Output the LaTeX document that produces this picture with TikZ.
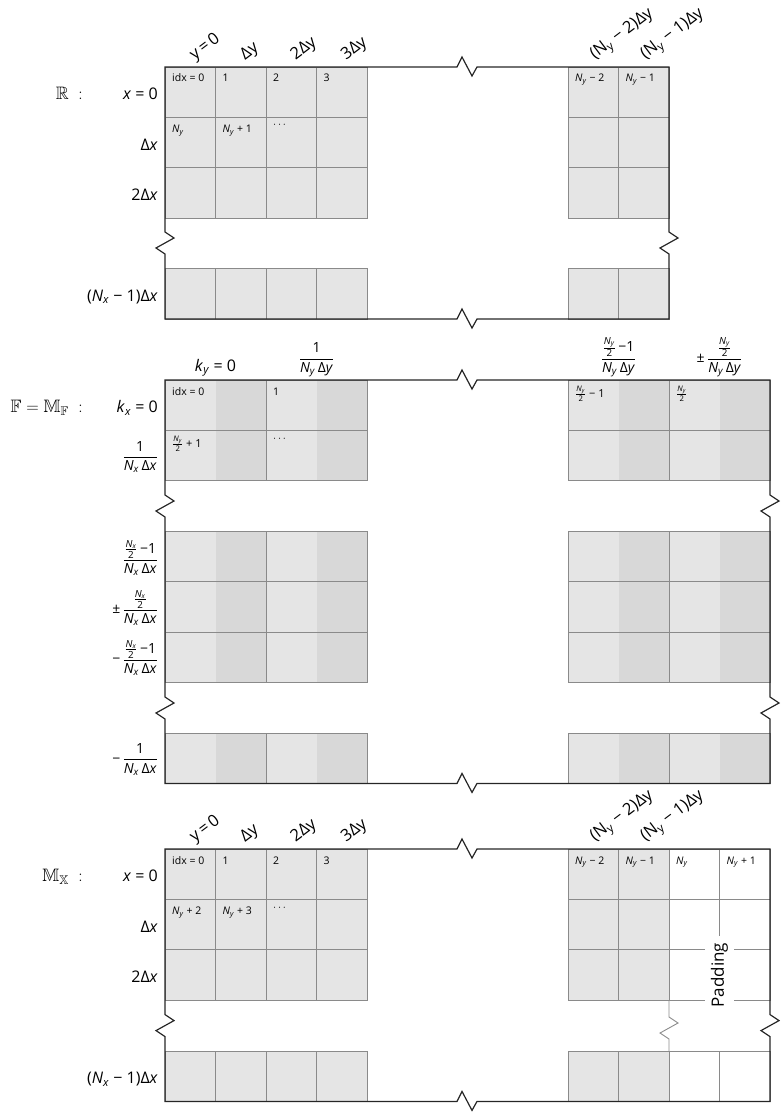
\documentclass[tikz,border=0pt]{standalone}
\usepackage{amsmath,amssymb}
\usepackage{fontspec}
\setmainfont{Open Sans}
\definecolor{cellA}{HTML}{E5E5E5}
\definecolor{cellB}{HTML}{D8D8D8}
\definecolor{gridln}{HTML}{8A8A8A}
\definecolor{outln}{HTML}{262626}
\newcommand{\Ny}{\textit{N}\textsubscript{\textit{y}}}
\newcommand{\Nx}{\textit{N}\textsubscript{\textit{x}}}
\newcommand{\uNy}{N\textsubscript{y}}
\newcommand{\iv}[1]{\textit{#1}}
\newcommand{\fr}[2]{\ensuremath{\dfrac{\text{#1}}{\text{#2}}}}
\newcommand{\sfr}[2]{\ensuremath{\frac{\text{#1}}{\text{#2}}}}
\newcommand{\gcell}[2]{\filldraw[grayc] (#1,#2) rectangle ++(50.5,50.4);}
\newcommand{\pcell}[2]{\filldraw[padc] (#1,#2) rectangle ++(50.5,50.4);}
\newcommand{\fcell}[2]{\fill[cellA] (#1,#2) rectangle ++(50.5,50.4);
  \fill[cellB] (#1+50.5,#2) rectangle ++(50.5,50.4);
  \draw[gridln, line width=0.9pt] (#1,#2) rectangle ++(101,50.4);}
\tikzset{
  grayc/.style={fill=cellA, draw=gridln, line width=0.9pt},
  padc/.style={fill=white, draw=gridln, line width=0.9pt},
  outer/.style={draw=outln, line width=1.2pt, line join=miter},
  rowlab/.style={anchor=base east, inner sep=0pt, font=\fontsize{16}{19}\selectfont},
  fraclab/.style={anchor=east, inner sep=0pt, font=\fontsize{14}{17}\selectfont},
  collab/.style={anchor=south west, inner sep=0pt, rotate=37, font=\fontsize{16.5}{20}\selectfont},
  topfrac/.style={anchor=south, inner sep=0pt, font=\fontsize{14}{17}\selectfont},
  idxlab/.style={anchor=base west, inner sep=0pt, font=\fontsize{10.5}{12}\selectfont},
  idxfrac/.style={anchor=north west, inner sep=0pt, font=\fontsize{11}{13}\selectfont},
  seclab/.style={anchor=base east, inner sep=0pt, font=\fontsize{18}{21}\selectfont},
}
\begin{document}
\begin{tikzpicture}[x=1pt,y=-1pt]
\useasboundingbox (0,0) rectangle (780,1113);
% ================= Section 1: R =================
\foreach \cx in {165,215.5,266,316.5,568,618.5}{
  \foreach \cy in {67,117.4,167.8,268.6}{\gcell{\cx}{\cy}}}
\draw[outer] (165,67) -- (457,67) -- ++(5,-10) -- ++(10,19) -- ++(5,-9) -- (669,67)
  -- (669,232) -- ++(9,6) -- ++(-18,10) -- ++(9,6) -- (669,319)
  -- (477,319) -- ++(-5,9) -- ++(-10,-19) -- ++(-5,10) -- (165,319)
  -- (165,254) -- ++(-9,-6) -- ++(18,-10) -- ++(-9,-6) -- cycle;
\node[seclab] (secR) at (83,99.7) {$\mathbb{R}\;\;{:}$};
\node[rowlab] (rA0) at (158,99.7) {\iv{x} = 0};
\node[rowlab] (rA1) at (158,150.1) {Δ\iv{x}};
\node[rowlab] (rA2) at (158,200.5) {2Δ\iv{x}};
\node[rowlab] (rA3) at (158,301.3) {(\Nx\ − 1)Δ\iv{x}};
\node[collab] (cA0) at (197,64) {y\,=\,0};
\node[collab] (cA1) at (247.5,64) {Δy};
\node[collab] (cA2) at (298,64) {2Δy};
\node[collab] (cA3) at (348.5,64) {3Δy};
\node[collab] (cA4) at (598,64) {(\uNy\ − 2)Δy};
\node[collab] (cA5) at (648.5,64) {(\uNy\ − 1)Δy};
\node[idxlab] (iA0) at (172,82) {idx = 0};
\node[idxlab] (iA1) at (222.5,82) {1};
\node[idxlab] (iA2) at (273,82) {2};
\node[idxlab] (iA3) at (323.5,82) {3};
\node[idxlab] (iA4) at (575,82) {\Ny\ − 2};
\node[idxlab] (iA5) at (625.5,82) {\Ny\ − 1};
\node[idxlab] (iA6) at (172,132.4) {\Ny};
\node[idxlab] (iA7) at (222.5,132.4) {\Ny\ + 1};
\node[idxlab] (iA8) at (273,128) {$\cdots$};
% ================= Section 2: F =================
\foreach \cx in {165,266,568,669}{
  \foreach \cy in {380,430.4,531.5,581.9,632.3,733}{\fcell{\cx}{\cy}}}
\draw[outer] (165,380) -- (457,380) -- ++(5,-10) -- ++(10,19) -- ++(5,-9) -- (770,380)
  -- (770,495) -- ++(9,6) -- ++(-18,10) -- ++(9,6)
  -- (770,697) -- ++(9,6) -- ++(-18,10) -- ++(9,6) -- (770,783.4)
  -- (477,783.4) -- ++(-5,9) -- ++(-10,-19) -- ++(-5,10) -- (165,783.4)
  -- (165,719) -- ++(-9,-6) -- ++(18,-10) -- ++(-9,-6)
  -- (165,517) -- ++(-9,-6) -- ++(18,-10) -- ++(-9,-6) -- cycle;
\node[seclab] (secF) at (83,412.7) {$\mathbb{F} = \mathbb{M}_{\mathbb{F}}\;\;{:}$};
\node[rowlab] (rB0) at (158,412.7) {\iv{k}\textsubscript{\iv{x}} = 0};
\node[fraclab] (rB1) at (158,457) {\fr{1}{\Nx\,Δ\iv{x}}};
\node[fraclab] (rB2) at (158,558) {\fr{\sfr{\Nx}{2}\,−1}{\Nx\,Δ\iv{x}}};
\node[fraclab] (rB3) at (158,608) {±\,\fr{\sfr{\Nx}{2}}{\Nx\,Δ\iv{x}}};
\node[fraclab] (rB4) at (158,658) {−\,\fr{\sfr{\Nx}{2}\,−1}{\Nx\,Δ\iv{x}}};
\node[fraclab] (rB5) at (158,759.5) {−\,\fr{1}{\Nx\,Δ\iv{x}}};
\node[rowlab, anchor=base] (cB0) at (215.5,371) {\iv{k}\textsubscript{\iv{y}} = 0};
\node[topfrac] (cB1) at (316.5,377) {\fr{1}{\Ny\,Δ\iv{y}}};
\node[topfrac] (cB2) at (618.5,377) {\fr{\sfr{\Ny}{2}\,−1}{\Ny\,Δ\iv{y}}};
\node[topfrac] (cB3) at (719.5,377) {±\,\fr{\sfr{\Ny}{2}}{\Ny\,Δ\iv{y}}};
\node[idxlab] (iB0) at (172,395) {idx = 0};
\node[idxlab] (iB1) at (273,395) {1};
\node[idxfrac] (iB2) at (172,436) {\sfr{\Ny}{2} + 1};
\node[idxlab] (iB3) at (273,441) {$\cdots$};
\node[idxfrac] (iB4) at (575,386) {\sfr{\Ny}{2} − 1};
\node[idxfrac] (iB5) at (676,386) {\sfr{\Ny}{2}};
% ================= Section 3: M_X =================
\foreach \cx in {165,215.5,266,316.5,568,618.5}{
  \foreach \cy in {849,899.4,949.8,1051}{\gcell{\cx}{\cy}}}
\foreach \cx in {669,719.5}{
  \foreach \cy in {849,899.4,949.8,1051}{\pcell{\cx}{\cy}}}
\draw[gridln, line width=0.9pt] (669,1000.2) -- (669,1017) -- ++(9,6) -- ++(-18,10) -- ++(9,6) -- (669,1051);
\draw[outer] (165,849) -- (457,849) -- ++(5,-10) -- ++(10,19) -- ++(5,-9) -- (770,849)
  -- (770,1014.6) -- ++(9,6) -- ++(-18,10) -- ++(9,6) -- (770,1101.4)
  -- (477,1101.4) -- ++(-5,9) -- ++(-10,-19) -- ++(-5,10) -- (165,1101.4)
  -- (165,1036.6) -- ++(-9,-6) -- ++(18,-10) -- ++(-9,-6) -- cycle;
\node[rotate=90, fill=white, inner xsep=7pt, inner ysep=6pt, font=\fontsize{17}{20}\selectfont] (pad) at (719.5,975) {Padding};
\node[seclab] (secM) at (83,881.7) {$\mathbb{M}_{\mathbb{X}}\;\;{:}$};
\node[rowlab] (rC0) at (158,881.7) {\iv{x} = 0};
\node[rowlab] (rC1) at (158,932.1) {Δ\iv{x}};
\node[rowlab] (rC2) at (158,982.5) {2Δ\iv{x}};
\node[rowlab] (rC3) at (158,1083.7) {(\Nx\ − 1)Δ\iv{x}};
\node[collab] (cC0) at (197,846) {y\,=\,0};
\node[collab] (cC1) at (247.5,846) {Δy};
\node[collab] (cC2) at (298,846) {2Δy};
\node[collab] (cC3) at (348.5,846) {3Δy};
\node[collab] (cC4) at (598,846) {(\uNy\ − 2)Δy};
\node[collab] (cC5) at (648.5,846) {(\uNy\ − 1)Δy};
\node[idxlab] (iC0) at (172,864) {idx = 0};
\node[idxlab] (iC1) at (222.5,864) {1};
\node[idxlab] (iC2) at (273,864) {2};
\node[idxlab] (iC3) at (323.5,864) {3};
\node[idxlab] (iC4) at (575,864) {\Ny\ − 2};
\node[idxlab] (iC5) at (625.5,864) {\Ny\ − 1};
\node[idxlab] (iC6) at (676,864) {\Ny};
\node[idxlab] (iC7) at (726.5,864) {\Ny\ + 1};
\node[idxlab] (iC8) at (172,914.4) {\Ny\ + 2};
\node[idxlab] (iC9) at (222.5,914.4) {\Ny\ + 3};
\node[idxlab] (iC10) at (273,910) {$\cdots$};
\end{tikzpicture}
\end{document}
